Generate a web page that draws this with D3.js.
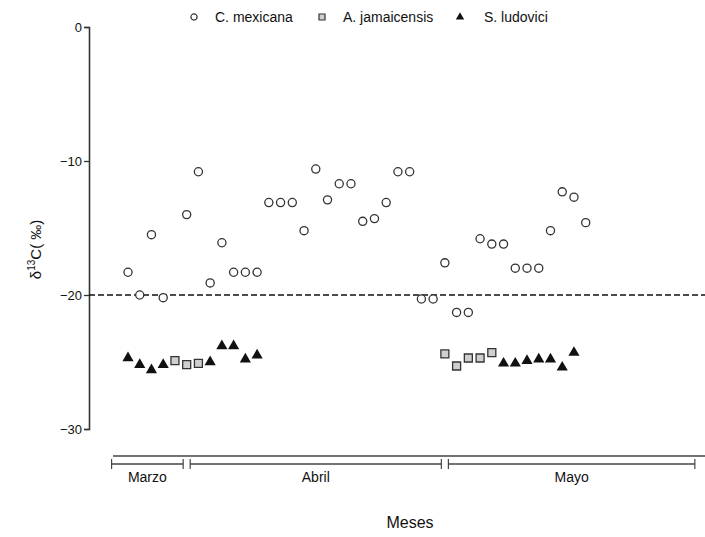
<!DOCTYPE html>
<html>
<head>
<meta charset="utf-8">
<script src="https://cdn.jsdelivr.net/npm/d3@7"></script>
<style>
  html, body { margin: 0; padding: 0; background: #fff; }
  svg { display: block; font-family: "Liberation Sans", Arial, sans-serif; }
</style>
</head>
<body>
<svg id="chart" width="705" height="537"></svg>
<script>
// Sample sequence positions (index along the sampling period) and δ13C values (‰)
const mexicanaIdx = [0,1,2,3,5,6,7,8,9,10,11,12,13,14,15,16,17,18,19,20,21,22,23,24,25,26,27,28,29,30,31,32,33,34,35,36,37,38,39];
const mexicanaVal = [-18.3,-20.0,-15.5,-20.2,-14.0,-10.8,-19.1,-16.1,-18.3,-18.3,-18.3,-13.1,-13.1,-13.1,-15.2,-10.6,-12.9,-11.7,-11.7,-14.5,-14.3,-13.1,-10.8,-10.8,-20.3,-20.3,-17.6,-21.3,-21.3,-15.8,-16.2,-16.2,-18.0,-18.0,-18.0,-15.2,-12.3,-12.7,-14.6];

const jamaicensisIdx = [4,5,6,27,28,29,30,31];
const jamaicensisVal = [-24.9,-25.2,-25.1,-24.4,-25.3,-24.7,-24.7,-24.3];

const ludoviciIdx = [0,1,2,3,7,8,9,10,11,32,33,34,35,36,37,38];
const ludoviciVal = [-24.7,-25.2,-25.6,-25.2,-25.0,-23.8,-23.8,-24.8,-24.5,-25.1,-25.1,-24.9,-24.8,-24.8,-25.4,-24.3];

// Month groups along the sequence axis (start and end index of each bracket)
const months = ["Marzo", "Abril", "Mayo"];
const monthStart = [-1.4, 5.3, 27.3];
const monthEnd = [4.7, 26.7, 48.3];

const yTicks = [0, -10, -20, -30];
const threshold = -20;

const seriesNames = ["C. mexicana", "A. jamaicensis", "S. ludovici"];

const svg = d3.select("#chart");

const x = d3.scaleLinear().domain([0, 39]).range([128, 585.7]);
const y = d3.scaleLinear().domain([0, -30]).range([27, 429]);
const axisX = 89;

// Y axis
const yAxis = d3.axisLeft(y).tickValues(yTicks).tickSize(5).tickPadding(2).tickFormat(d3.format("d"));
const gY = svg.append("g").attr("transform", `translate(${axisX},0)`).call(yAxis);
gY.select(".domain").attr("stroke", "#333").attr("stroke-width", 1.6);
gY.selectAll(".tick line").attr("stroke", "#333").attr("stroke-width", 1.3);
gY.selectAll(".tick text").attr("font-size", 13).attr("fill", "#111")
  .attr("font-family", "'Liberation Sans', Arial, sans-serif");

// Y axis title
const yTitle = svg.append("text")
  .attr("transform", `translate(41,${y(-16.6)}) rotate(-90)`)
  .attr("text-anchor", "middle")
  .attr("font-size", 15)
  .attr("fill", "#111");
yTitle.append("tspan").text("δ");
yTitle.append("tspan").attr("font-size", 10).attr("dy", -6).text("13");
yTitle.append("tspan").attr("dy", 6).text("C( ‰)");

// Threshold line
svg.append("line")
  .attr("x1", axisX).attr("x2", 705)
  .attr("y1", y(threshold)).attr("y2", y(threshold))
  .attr("stroke", "#111").attr("stroke-width", 1.5)
  .attr("stroke-dasharray", "6,3");

// Markers
const circleSym = d3.symbol().type(d3.symbolCircle).size(52);
const squareSym = d3.symbol().type(d3.symbolSquare).size(64);
const triSym = d3.symbol().type(d3.symbolTriangle).size(54);

svg.append("g").selectAll("path")
  .data(d3.zip(mexicanaIdx, mexicanaVal))
  .join("path")
  .attr("d", circleSym)
  .attr("transform", d => `translate(${x(d[0])},${y(d[1])})`)
  .attr("fill", "#fff").attr("stroke", "#333").attr("stroke-width", 1.3);

svg.append("g").selectAll("path")
  .data(d3.zip(jamaicensisIdx, jamaicensisVal))
  .join("path")
  .attr("d", squareSym)
  .attr("transform", d => `translate(${x(d[0])},${y(d[1])})`)
  .attr("fill", "#cfcfcf").attr("stroke", "#333").attr("stroke-width", 1.3);

svg.append("g").selectAll("path")
  .data(d3.zip(ludoviciIdx, ludoviciVal))
  .join("path")
  .attr("d", triSym)
  .attr("transform", d => `translate(${x(d[0])},${y(d[1])})`)
  .attr("fill", "#111");

// Month brackets along the bottom
const baseY = 456;
svg.append("line")
  .attr("x1", 113).attr("x2", 705)
  .attr("y1", baseY).attr("y2", baseY)
  .attr("stroke", "#444").attr("stroke-width", 1.3);

const bracketY = 464;
const gM = svg.append("g");
months.forEach((m, i) => {
  const x0 = x(monthStart[i]), x1 = x(monthEnd[i]);
  gM.append("line").attr("x1", x0).attr("x2", x1).attr("y1", bracketY).attr("y2", bracketY)
    .attr("stroke", "#444").attr("stroke-width", 1.3);
  [x0, x1].forEach(xx => gM.append("line")
    .attr("x1", xx).attr("x2", xx).attr("y1", bracketY - 5).attr("y2", bracketY + 5)
    .attr("stroke", "#444").attr("stroke-width", 1.2));
  gM.append("text")
    .attr("x", (x0 + x1) / 2).attr("y", 482)
    .attr("text-anchor", "middle").attr("font-size", 14).attr("fill", "#111")
    .text(m);
});

// X axis title
svg.append("text")
  .attr("x", 410).attr("y", 528)
  .attr("text-anchor", "middle").attr("font-size", 16).attr("fill", "#111")
  .text("Meses");

// Legend
const legend = svg.append("g");
const legendItems = [
  { name: seriesNames[0], sym: d3.symbol().type(d3.symbolCircle).size(30), fill: "#fff", stroke: "#333", mx: 194, tx: 215 },
  { name: seriesNames[1], sym: d3.symbol().type(d3.symbolSquare).size(36), fill: "#cfcfcf", stroke: "#333", mx: 322, tx: 343 },
  { name: seriesNames[2], sym: d3.symbol().type(d3.symbolTriangle).size(30), fill: "#111", stroke: "none", mx: 460, tx: 484 }
];
legendItems.forEach(it => {
  legend.append("path").attr("d", it.sym)
    .attr("transform", `translate(${it.mx},17)`)
    .attr("fill", it.fill).attr("stroke", it.stroke).attr("stroke-width", 1.2);
  legend.append("text").attr("x", it.tx).attr("y", 22)
    .attr("font-size", 14).attr("fill", "#111").text(it.name);
});
</script>
</body>
</html>
